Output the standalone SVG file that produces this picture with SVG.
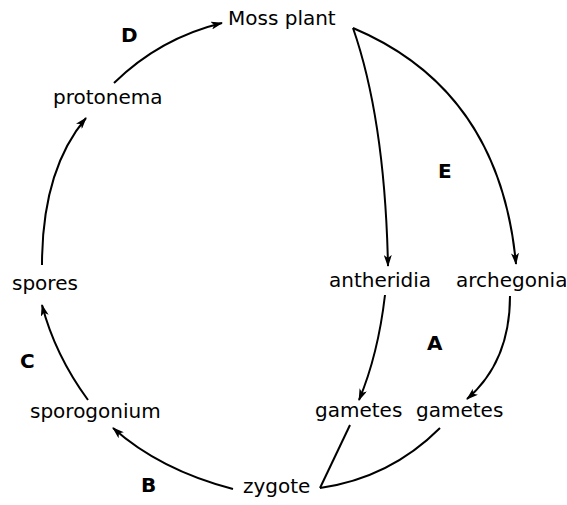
<svg xmlns="http://www.w3.org/2000/svg" width="567" height="505" viewBox="0 0 567 505">
<style>
text{font-family:"DejaVu Sans","Liberation Sans",sans-serif;font-size:20px;fill:#000}
.l{font-weight:bold}
.c{fill:none;stroke:#000;stroke-width:2}
.a{marker-end:url(#ah)}
</style>
<defs>
<marker id="ah" viewBox="0 0 12 8" refX="11" refY="4" markerWidth="12" markerHeight="8" markerUnits="userSpaceOnUse" orient="auto">
<path d="M0,0 L12,4 L0,8 L3,4 z" fill="#000"/>
</marker>
</defs>
<rect width="567" height="505" fill="#fff"/>
<g id="connectors">
<path class="c a" d="M114,83 Q160,38 222,23"/>
<path class="c a" d="M42,265 Q42,170 86,118"/>
<path class="c a" d="M88,400 Q55,355 42,305"/>
<path class="c a" d="M233,489 Q160,470 113,428"/>
<path class="c a" d="M353,28 Q385,120 388,266"/>
<path class="c a" d="M353,28 Q500,90 516,264"/>
<path class="c a" d="M385,295 Q378,355 359,400"/>
<path class="c a" d="M510,296 Q510,362 467,399"/>
<path class="c" d="M350,425 L320,488"/>
<path class="c" d="M440,428 Q390,478 320,488"/>
</g>
<g id="moss"><text x="228" y="25">Moss plant</text></g>
<g id="protonema"><text x="53" y="104">protonema</text></g>
<g id="spores"><text x="12" y="290">spores</text></g>
<g id="sporogonium"><text x="30" y="418">sporogonium</text></g>
<g id="zygote"><text x="243" y="493">zygote</text></g>
<g id="antheridia"><text x="329" y="287">antheridia</text></g>
<g id="archegonia"><text x="456" y="287">archegonia</text></g>
<g id="gametes1"><text x="315" y="417">gametes</text></g>
<g id="gametes2"><text x="416" y="417">gametes</text></g>
<g id="labels">
<text class="l" x="121" y="42">D</text>
<text class="l" x="438" y="178">E</text>
<text class="l" x="427" y="350">A</text>
<text class="l" x="20" y="368">C</text>
<text class="l" x="141" y="492">B</text>
</g>
</svg>
